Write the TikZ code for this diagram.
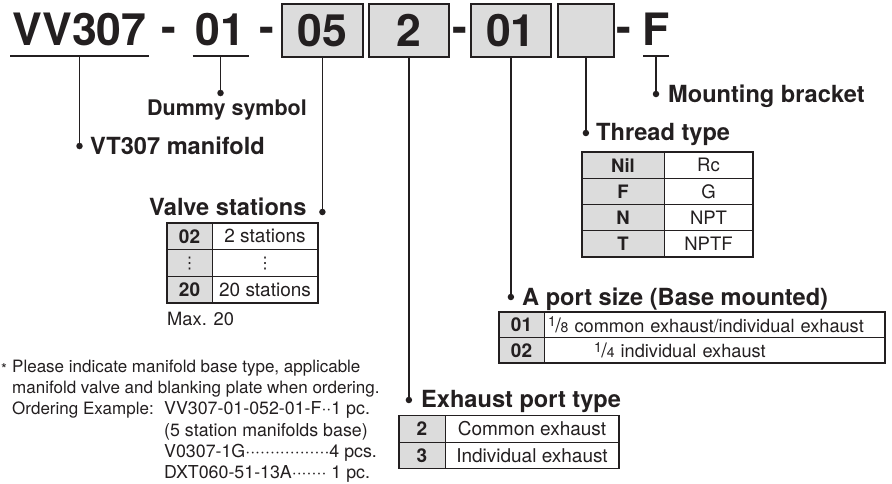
\documentclass[tikz,border=0pt]{standalone}
\usepackage{fontspec}
\setmainfont{TeX Gyre Heros}
\newfontfamily\symfont{DejaVu Sans}
\usepackage{xcolor}
\usetikzlibrary{positioning}
\definecolor{ink}{HTML}{231F20}
\definecolor{cellgray}{HTML}{DCDCDC}
\newcommand{\fsz}[1]{\fontsize{#1}{#1}\selectfont}
\newcommand{\frc}[2]{\raisebox{5.5pt}{\fsz{14}#1}\kern-0.3pt{\fsz{20}/}\kern-0.3pt{\fsz{14}#2}}
\newcommand{\vdts}{{\symfont\mdseries\fsz{16}⋮}}

\begin{document}
\begin{tikzpicture}[x=1pt, y=-1pt, color=ink]
    \tikzstyle{codetext} = [inner ysep=11pt, text depth=0pt, anchor=base, font=\bfseries\fsz{44.6}]
    \tikzstyle{codebox} = [draw, fill=cellgray, line width=1.8pt, minimum height=53pt, inner sep=0pt, anchor=north west, font=\bfseries\fsz{44.6}]
    \tikzstyle{dashsym} = [inner sep=0pt, anchor=base, font=\bfseries\fsz{44.6}]
    \tikzstyle{underl} = [line width=1.8pt]
    \tikzstyle{lead} = [line width=1.8pt]
    \tikzstyle{leaddot} = [circle, fill, inner sep=0pt, minimum size=6.5pt]
    \tikzstyle{lbl} = [inner sep=0pt, anchor=base west, font=\bfseries\fsz{23.6}]
    \tikzstyle{keycell} = [draw, fill=cellgray, line width=0.9pt, inner sep=0pt, outer sep=0pt, anchor=north west, font=\bfseries\fsz{19}]
    \tikzstyle{valcell} = [draw, line width=0.9pt, inner sep=0pt, outer sep=0pt, anchor=north west, font=\fsz{19}]
    \tikzstyle{tabframe} = [line width=1.4pt]
    \tikzstyle{note} = [inner sep=0pt, anchor=base west, font=\fsz{17}]
    \tikzstyle{notecol} = [note, font=\fsz{17.8}]
    \useasboundingbox (0,0) rectangle (892,483);

    % part number
    \node [codetext, inner xsep=2pt] at (79.5,45) (vv) {VV307};
    \node [dashsym] at (169,42) (d1) {-};
    \node [codetext, inner xsep=3pt] at (220.5,45) (dum) {01};
    \node [dashsym] at (266.5,42) (d2) {-};
    \node [codebox, minimum width=81pt] at (281,3) (stn) {05};
    \node [codebox, minimum width=80pt] at (368,3) (exh) {2};
    \node [dashsym] at (459.5,42) (d3) {-};
    \node [codebox, minimum width=80pt] at (470,3) (aport) {01};
    \node [codebox, minimum width=56pt] at (557,3) (thr) {};
    \node [dashsym] at (623.5,42) (d4) {-};
    \node [codetext, inner xsep=-1pt] at (656,45) (mnt) {F};
    \draw [underl] (vv.south west) -- (vv.south east);
    \draw [underl] (dum.south west) -- (dum.south east);
    \draw [underl] (mnt.south west) -- (mnt.south east);

    % leaders
    \node [leaddot] at (vv.south |- 0,146) (vvdot) {};
    \node [leaddot] at (dum.south |- 0,93) (dumdot) {};
    \node [leaddot] at (stn.south |- 0,212) (stndot) {};
    \node [leaddot] at (exh.south |- 0,400) (exhdot) {};
    \node [leaddot] at (aport.south |- 0,297) (aportdot) {};
    \node [leaddot] at (thr.south |- 0,133) (thrdot) {};
    \node [leaddot] at (mnt.south |- 0,94) (mntdot) {};
    \draw [lead] (vv.south) -- (vvdot.center);
    \draw [lead] (dum.south) -- (dumdot.center);
    \draw [lead] (stn.south) -- (stndot.center);
    \draw [lead] (exh.south) -- (exhdot.center);
    \draw [lead] (aport.south) -- (aportdot.center);
    \draw [lead] (thr.south) -- (thrdot.center);
    \draw [lead] (mnt.south) -- (mntdot.center);

    \node [lbl] at (90,154.5) (vvtxt) {VT307 manifold};
    \node [lbl, font=\bfseries\fsz{21.5}] at (147,115) (dumtxt) {Dummy symbol};
    \node [lbl] at (149,215) (stntxt) {Valve stations};
    \node [lbl] at (421,407) (exhtxt) {Exhaust port type};
    \node [lbl] at (522,305) (aporttxt) {A port size (Base mounted)};
    \node [lbl] at (596,140) (thrtxt) {Thread type};
    \node [lbl] at (668,102) (mnttxt) {Mounting bracket};

    % valve stations
    \node [keycell, minimum width=45pt, minimum height=26.7pt] at (167,223) (s1) {02};
    \node [valcell, minimum width=106pt, minimum height=26.7pt, right=0pt of s1] (s1v) {2 stations};
    \node [keycell, minimum width=45pt, minimum height=26.7pt, below=0pt of s1] (s2) {\vdts};
    \node [valcell, minimum width=106pt, minimum height=26.7pt, right=0pt of s2] (s2v) {\vdts};
    \node [keycell, minimum width=45pt, minimum height=26.7pt, below=0pt of s2] (s3) {20};
    \node [valcell, minimum width=106pt, minimum height=26.7pt, right=0pt of s3] (s3v) {20 stations};
    \draw [tabframe] (s1.north west) rectangle (s3v.south east);
    \node [note, font=\fsz{18.3}] at (167,325) (maxtxt) {Max. 20};

    % thread type
    \node [keycell, minimum width=82pt, minimum height=26.25pt, font=\bfseries\fsz{18.5}] at (582,152) (t1) {Nil};
    \node [valcell, minimum width=89pt, minimum height=26.25pt, font=\fsz{18.5}, right=0pt of t1] (t1v) {Rc};
    \node [keycell, minimum width=82pt, minimum height=26.25pt, font=\bfseries\fsz{18.5}, below=0pt of t1] (t2) {F};
    \node [valcell, minimum width=89pt, minimum height=26.25pt, font=\fsz{18.5}, right=0pt of t2] (t2v) {G};
    \node [keycell, minimum width=82pt, minimum height=26.25pt, font=\bfseries\fsz{18.5}, below=0pt of t2] (t3) {N};
    \node [valcell, minimum width=89pt, minimum height=26.25pt, font=\fsz{18.5}, right=0pt of t3] (t3v) {NPT};
    \node [keycell, minimum width=82pt, minimum height=26.25pt, font=\bfseries\fsz{18.5}, below=0pt of t3] (t4) {T};
    \node [valcell, minimum width=89pt, minimum height=26.25pt, font=\fsz{18.5}, right=0pt of t4] (t4v) {NPTF};
    \draw [tabframe] (t1.north west) rectangle (t4v.south east);

    % A port size
    \node [keycell, minimum width=45pt, minimum height=25.5pt] at (499,312) (a1) {01};
    \node [valcell, minimum height=25.5pt, inner xsep=4pt, text width=333pt, align=left, font=\fsz{18.2}, right=0pt of a1] (a1v) {\frc{1}{8} common exhaust/individual exhaust};
    \node [keycell, minimum width=45pt, minimum height=25.5pt, below=0pt of a1] (a2) {02};
    \node [valcell, minimum height=25.5pt, inner xsep=4pt, text width=333pt, align=left, font=\fsz{18.2}, right=0pt of a2] (a2v) {\hspace*{46pt}\frc{1}{4} individual exhaust};
    \draw [tabframe] (a1.north west) rectangle (a2v.south east);

    % exhaust port type
    \node [keycell, minimum width=46pt, minimum height=26.5pt] at (399,415.5) (e1) {2};
    \node [valcell, minimum width=174pt, minimum height=26.5pt, right=0pt of e1] (e1v) {Common exhaust};
    \node [keycell, minimum width=46pt, minimum height=26.5pt, below=0pt of e1] (e2) {3};
    \node [valcell, minimum width=174pt, minimum height=26.5pt, right=0pt of e2] (e2v) {Individual exhaust};
    \draw [tabframe] (e1.north west) rectangle (e2v.south east);

    % note
    \node [note, font=\fsz{15}] at (1,374) (ast) {*};
    \node [note] at (12,372) (nl1) {Please indicate manifold base type, applicable};
    \node [note] at (12,393.3) (nl2) {manifold valve and blanking plate when ordering.};
    \node [note] at (12,414.6) (nl3) {Ordering Example:};
    \node [notecol] at (164,414.6) (nl4) {VV307-01-052-01-F··1 pc.};
    \node [notecol] at (164,436) (nl5) {(5 station manifolds base)};
    \node [notecol] at (164,457.3) (nl6) {V0307-1G·················4 pcs.};
    \node [notecol] at (164,478.6) (nl7) {DXT060-51-13A······· 1 pc.};
\end{tikzpicture}
\end{document}
